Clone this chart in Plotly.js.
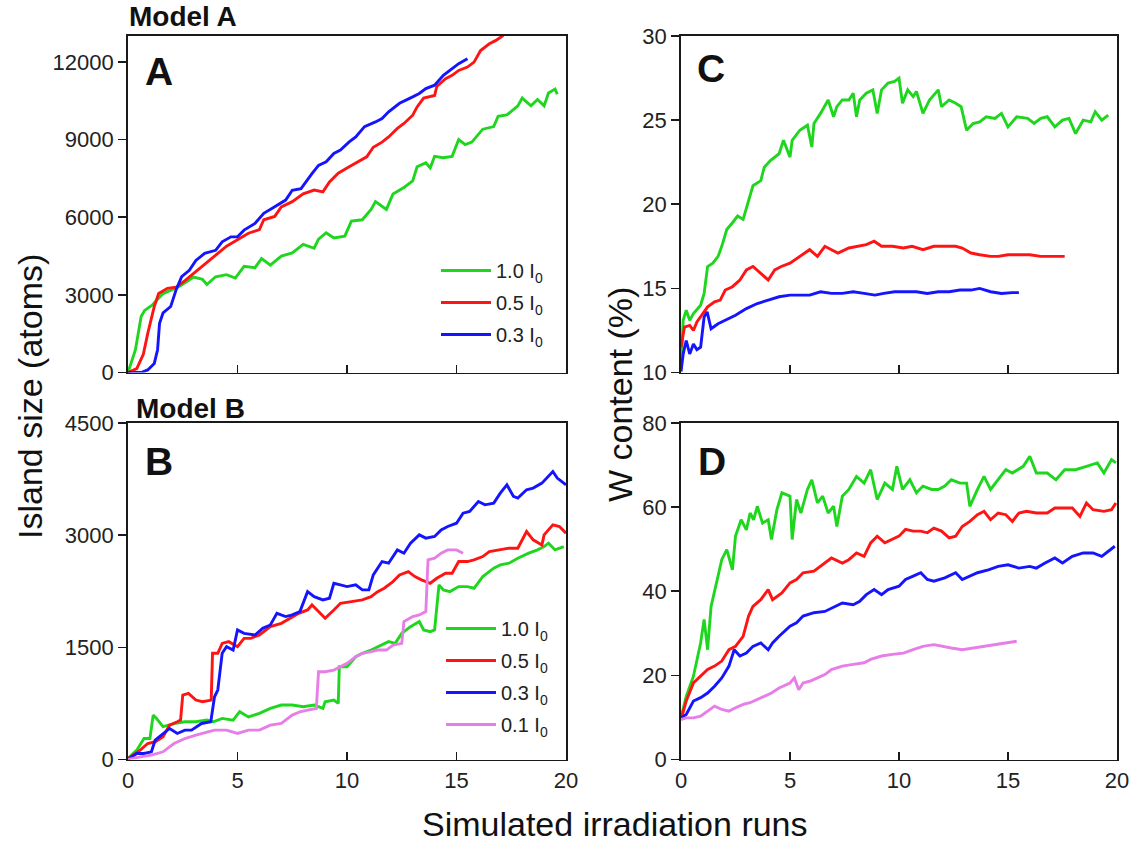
<!DOCTYPE html>
<html>
<head>
<meta charset="utf-8">
<script src="https://cdn.plot.ly/plotly-3.0.1.min.js"></script>
<style>html,body{margin:0;padding:0;background:#fff;}#chart{width:1136px;height:848px;}</style>
</head>
<body>
<div id="chart"></div>
<script>
// ---------- Series names ----------
const seriesNames = ['1.0 I<sub>0</sub>', '0.5 I<sub>0</sub>', '0.3 I<sub>0</sub>', '0.1 I<sub>0</sub>'];

// ---------- Panel A (Model A, island size) ----------
const aGreenX = [0,0.34,0.6,0.76,1.1,1.6,2.3,3.0,3.4,3.6,4.0,4.5,4.9,5.3,5.8,6.1,6.5,7.0,7.5,8.0,8.5,8.7,9.05,9.4,9.9,10.2,10.7,11.1,11.3,11.8,12.1,12.6,13.0,13.2,13.6,13.8,14.0,14.4,14.8,15.1,15.4,15.7,16.2,16.7,16.9,17.3,17.8,18.0,18.4,18.7,19.0,19.2,19.5,19.6];
const aGreenY = [0,880,2160,2400,2600,3050,3300,3690,3600,3400,3700,3780,3650,4100,4050,4400,4150,4500,4620,4950,4800,5150,5400,5200,5270,5850,5900,6300,6600,6300,6900,7150,7400,7950,8100,7900,8350,8300,8350,9000,8800,8900,9400,9500,9900,9950,10300,10600,10300,10550,10300,10800,10950,10750];
const aRedX = [0,0.4,0.7,0.9,1.2,1.4,1.8,2.2,2.6,3.1,3.6,4.1,4.5,5.0,5.5,6.0,6.2,6.7,7.0,7.5,8.0,8.5,8.9,9.2,9.6,10.1,10.6,10.9,11.2,11.6,11.9,12.3,12.6,13.0,13.2,13.5,14.0,14.1,14.5,14.8,15.1,15.5,15.8,16.1,16.5,16.8,17.1,17.3];
const aRedY = [0,150,700,1500,2550,3050,3250,3300,3550,3900,4250,4620,4880,5130,5380,5520,5900,6030,6400,6600,6900,7050,6980,7360,7700,7950,8200,8330,8700,8900,9100,9430,9620,9940,10260,10600,10700,11050,11350,11480,11670,11800,11990,12440,12700,12830,13000,13250];
const aBlueX = [0,0.6,0.9,1.2,1.35,1.44,1.6,1.95,2.2,2.45,2.8,3.1,3.5,4.0,4.3,4.7,5.0,5.3,5.8,6.2,6.7,7.2,7.5,7.9,8.4,8.7,9.05,9.4,9.7,10.1,10.4,10.8,11.3,11.6,11.9,12.4,13.0,13.3,13.6,14.0,14.4,14.8,15.1,15.5];
const aBlueY = [0,0,100,350,880,1900,2300,2550,3200,3700,3950,4330,4600,4720,5050,5240,5240,5500,5760,6150,6400,6660,7040,7100,7680,8000,8140,8460,8590,8910,9100,9500,9680,9810,10070,10400,10650,10780,10970,11100,11480,11740,11930,12120];

// ---------- Panel B (Model B, island size) ----------
const bGreenX = [0,0.4,0.73,1.0,1.15,1.3,1.6,2.1,2.6,3.1,3.6,3.9,4.3,4.8,5.1,5.5,6.0,6.5,7.0,7.5,8.0,8.5,8.9,9.0,9.4,9.6,9.65,10.0,10.4,10.7,11.1,11.4,11.9,12.2,12.5,12.9,13.3,13.5,13.8,14.0,14.2,14.4,14.7,15.1,15.5,15.8,16.2,16.7,17.0,17.4,17.8,18.3,18.7,19.0,19.2,19.5,19.9];
const bGreenY = [13,125,280,280,594,550,440,480,505,505,527,505,550,527,640,570,616,683,728,728,705,728,683,772,795,750,1240,1240,1375,1420,1464,1509,1576,1553,1687,1777,1844,1732,1710,1732,2335,2268,2245,2312,2312,2290,2446,2558,2602,2625,2692,2759,2803,2848,2893,2803,2848];
const bRedX = [0,0.56,0.9,1.24,1.6,1.9,2.25,2.4,2.5,2.76,3.1,3.4,3.8,3.86,4.1,4.3,4.6,5.0,5.3,5.6,6.0,6.5,7.0,7.5,7.8,8.2,8.4,8.7,9.0,9.4,9.7,10.2,10.7,11.1,11.4,11.7,12.1,12.4,12.8,13.1,13.4,13.8,14.1,14.5,14.8,15.1,15.5,15.8,16.2,16.5,16.9,17.4,17.8,18.2,18.5,18.9,19.0,19.4,19.7,20.0];
const bRedY = [13,125,214,237,304,460,505,527,862,884,795,772,795,1420,1420,1553,1576,1509,1620,1620,1665,1777,1821,1911,1955,2000,2067,1978,1888,2000,2089,2111,2134,2178,2245,2290,2379,2469,2513,2446,2402,2357,2424,2491,2491,2647,2647,2670,2714,2781,2803,2826,2826,3049,2937,2870,3004,3138,3116,3027];
const bBlueX = [0,0.4,0.73,1.07,1.24,1.6,1.9,2.25,2.6,2.9,3.36,3.78,3.95,4.1,4.3,4.5,4.8,5.0,5.3,5.8,6.15,6.5,6.8,7.2,7.5,7.85,8.2,8.5,8.9,9.2,9.4,9.7,10.0,10.4,10.7,11.0,11.2,11.6,11.9,12.3,12.6,12.9,13.3,13.6,14.0,14.3,14.6,15.0,15.3,15.6,16.0,16.3,16.7,17.0,17.3,17.6,17.8,18.2,18.5,18.9,19.1,19.4,19.6,20.0];
const bBlueY = [0,80,80,103,259,348,415,348,393,393,482,505,839,929,1420,1509,1464,1732,1687,1665,1754,1799,1955,1911,1933,1978,2245,2178,2134,2156,2357,2335,2312,2335,2268,2268,2469,2647,2625,2803,2759,2893,3004,2960,2982,3071,3116,3160,3294,3317,3451,3406,3429,3562,3674,3518,3495,3607,3629,3696,3763,3852,3763,3674];
const bVioletX = [0,0.56,1.07,1.6,2.1,2.6,3.1,3.6,3.95,4.5,5.0,5.5,6.0,6.5,7.0,7.5,7.85,8.2,8.5,8.6,8.7,9.0,9.4,9.7,10.0,10.4,10.7,11.1,11.4,11.8,12.1,12.5,12.6,13.0,13.3,13.6,13.7,14.0,14.3,14.6,15.0,15.3];
const bVioletY = [0,36,58,103,214,281,326,370,393,393,348,393,393,460,482,594,638,660,683,683,1174,1174,1196,1241,1286,1375,1420,1442,1464,1464,1531,1553,1844,1911,1933,1978,2670,2692,2759,2803,2803,2759];

// ---------- Panel C (Model A, W content) ----------
const cGreenX = [0,0.1,0.24,0.4,0.57,0.9,1.06,1.22,1.46,1.7,1.87,2.1,2.36,2.6,2.85,3.1,3.3,3.66,3.82,4.1,4.5,4.7,5.0,5.1,5.45,5.8,6.0,6.1,6.4,6.75,7.0,7.15,7.4,7.7,7.9,8.05,8.2,8.5,8.8,9.0,9.2,9.5,9.8,10.0,10.16,10.4,10.65,10.8,11.1,11.4,11.8,11.95,12.3,12.6,12.85,13.1,13.4,13.7,14.0,14.4,14.7,15.0,15.4,15.9,16.2,16.5,16.8,17.15,17.5,17.8,18.1,18.45,18.8,19.0,19.3,19.6];
const cGreenY = [10.2,13.1,13.7,13.1,13.5,14.0,14.7,16.3,16.5,16.9,17.5,18.5,18.9,19.3,19.1,20.3,21.1,21.4,22.2,22.6,23.0,23.8,22.8,23.8,24.4,24.7,23.4,24.8,25.4,26.2,25.2,25.8,26.2,26.2,26.6,25.2,26.2,26.6,26.8,25.4,26.8,27.2,27.3,27.5,26.0,26.8,26.4,26.7,25.4,26.2,26.8,25.8,26.2,26.0,25.8,24.4,24.8,24.9,25.2,25.1,25.4,24.6,25.2,25.1,24.8,25.1,25.2,24.6,25.0,25.1,24.2,25.0,24.9,25.5,25.0,25.3];
const cRedX = [0,0.16,0.4,0.57,0.73,0.98,1.22,1.54,1.8,2.03,2.36,2.7,3.0,3.3,3.66,4.0,4.3,4.6,5.0,5.45,5.9,6.26,6.6,6.9,7.2,7.7,8.2,8.5,8.86,9.2,9.7,10.2,10.6,11.1,11.6,12.1,12.6,12.9,13.3,13.7,14.2,14.55,15.0,15.5,16.0,16.5,17.0,17.6];
const cRedY = [11.5,12.7,12.8,12.5,13.0,13.5,13.9,14.2,14.3,14.9,15.1,15.5,16.1,16.3,15.9,15.5,16.1,16.3,16.5,16.9,17.3,16.9,17.5,17.3,17.1,17.4,17.5,17.6,17.8,17.5,17.5,17.4,17.5,17.3,17.5,17.5,17.5,17.4,17.1,17.0,16.9,16.9,17.0,17.0,17.0,16.9,16.9,16.9];
const cBlueX = [0,0.1,0.24,0.4,0.57,0.73,0.9,1.06,1.2,1.38,1.7,2.03,2.5,3.0,3.5,4.0,4.5,5.0,5.45,5.9,6.4,6.9,7.4,7.9,8.4,8.9,9.3,9.8,10.3,10.8,11.3,11.8,12.3,12.8,13.3,13.7,14.2,14.7,15.2,15.5];
const cBlueY = [10.06,11.1,11.9,11.1,11.7,11.35,11.5,13.3,13.6,12.6,12.9,13.1,13.4,13.8,14.1,14.3,14.5,14.6,14.6,14.6,14.8,14.7,14.7,14.8,14.7,14.6,14.7,14.8,14.8,14.8,14.7,14.8,14.8,14.9,14.9,15.0,14.8,14.7,14.75,14.75];

// ---------- Panel D (Model B, W content) ----------
const dGreenX = [0,0.24,0.57,0.9,1.06,1.22,1.38,1.63,1.87,2.1,2.36,2.5,2.76,3.0,3.17,3.33,3.5,3.74,4.0,4.15,4.4,4.63,5.0,5.1,5.3,5.5,5.8,6.0,6.26,6.5,6.75,7.0,7.15,7.4,7.7,8.05,8.4,8.7,9.0,9.35,9.7,9.9,10.16,10.5,10.8,11.1,11.5,11.8,12.1,12.4,12.8,13.1,13.25,13.6,13.9,14.2,14.55,14.9,15.2,15.7,16.0,16.3,16.8,17.2,17.6,18.1,18.6,19.1,19.4,19.75,19.95];
const dGreenY = [9.9,15.0,19.8,27.7,33.3,26.1,36.4,42.0,47.5,49.9,45.1,53.1,57.0,54.6,58.6,57.0,60.2,56.2,57.0,52.3,59.4,63.4,62.6,52.3,61.8,58.6,64.2,66.5,61.0,62.6,58.6,60.2,55.4,62.6,64.2,67.3,65.7,68.9,61.8,65.7,64.2,69.7,64.2,66.5,63.4,65.0,64.2,64.2,65.0,66.5,65.7,65.7,60.2,64.2,67.3,64.2,66.5,68.9,68.1,69.7,72.1,68.1,68.1,66.5,68.9,68.9,69.7,70.5,68.1,71.3,70.5];
const dRedX = [0,0.24,0.57,0.9,1.22,1.54,1.87,2.2,2.5,2.85,3.1,3.3,3.66,4.0,4.2,4.63,5.0,5.3,5.6,6.1,6.6,6.9,7.4,7.7,8.05,8.4,8.7,9.0,9.35,9.7,10.0,10.3,10.65,11.0,11.3,11.6,11.95,12.3,12.6,12.9,13.25,13.6,13.9,14.2,14.55,14.9,15.2,15.5,15.85,16.3,16.8,17.15,17.6,17.95,18.3,18.6,18.9,19.4,19.75,19.95];
const dRedY = [9.5,13.9,18.2,19.8,21.4,22.2,23.4,26.1,26.9,29.3,34.1,36.4,38.0,40.4,38.0,39.6,42.0,42.8,44.4,44.8,46.7,47.9,46.7,47.5,49.1,48.3,51.5,53.1,51.5,52.3,53.1,54.7,54.3,54.3,53.9,55.0,54.3,52.7,53.1,55.4,56.6,58.2,59.0,57.0,58.6,58.2,56.6,58.6,59.0,58.6,58.6,59.8,59.8,59.8,57.8,61.0,59.4,59.0,59.4,61.0];
const dBlueX = [0,0.24,0.57,0.9,1.22,1.54,1.87,2.2,2.44,2.7,3.0,3.3,3.66,4.0,4.2,4.5,5.0,5.3,5.6,6.1,6.6,6.9,7.4,7.9,8.2,8.5,8.86,9.2,9.5,10.0,10.3,10.65,11.0,11.3,11.6,12.1,12.6,12.9,13.25,13.6,14.1,14.55,15.0,15.5,16.0,16.3,16.7,17.15,17.5,17.95,18.45,18.9,19.3,19.6,19.9];
const dBlueY = [9.9,10.7,13.9,14.7,15.8,17.4,19.4,22.2,26.1,24.6,25.3,26.9,27.7,26.1,27.7,29.3,31.7,32.5,34.1,34.9,35.2,36.0,37.2,36.8,37.6,39.2,40.4,39.2,40.4,41.2,42.8,43.6,44.4,42.8,42.4,43.2,44.4,42.8,43.6,44.4,45.1,45.9,46.3,45.5,45.9,45.5,46.7,47.9,46.7,48.3,49.1,49.1,48.3,49.5,50.7];
const dVioletX = [0,0.24,0.57,0.9,1.22,1.54,1.87,2.2,2.5,2.85,3.17,3.5,3.82,4.15,4.5,5.0,5.2,5.4,5.6,5.9,6.26,6.6,6.9,7.4,7.9,8.4,8.7,9.2,9.7,10.2,10.65,11.1,11.6,11.95,12.4,12.9,13.4,13.9,14.4,14.9,15.2,15.4];
const dVioletY = [9.5,9.9,9.9,10.3,11.5,12.7,11.9,11.5,12.3,13.1,13.5,14.3,15.0,15.8,17.0,18.2,19.4,16.6,18.2,18.6,19.4,20.2,21.4,22.2,22.6,23.0,23.8,24.6,25.0,25.3,26.1,26.9,27.3,26.9,26.5,26.1,26.5,26.9,27.3,27.7,28.1,28.1];

// ---------- Tick labels ----------
const xTickVals = [0, 5, 10, 15, 20];
const xTickText = ['0', '5', '10', '15', '20'];
const yATickVals = [0, 3000, 6000, 9000, 12000];
const yATickText = ['0', '3000', '6000', '9000', '12000'];
const yBTickVals = [0, 1500, 3000, 4500];
const yBTickText = ['0', '1500', '3000', '4500'];
const yCTickVals = [10, 15, 20, 25, 30];
const yCTickText = ['10', '15', '20', '25', '30'];
const yDTickVals = [0, 20, 40, 60, 80];
const yDTickText = ['0', '20', '40', '60', '80'];

// ---------- Styles ----------
const FONT = 'Liberation Sans, Arial, Helvetica, sans-serif';
const COLORS = ['#1fd61f', '#ff1414', '#1414ff', '#e77de7'];
const LW = 2.9;

function tr(x, y, i, xa, ya, legendId) {
  return {
    type: 'scatter', mode: 'lines', x: x, y: y, xaxis: xa, yaxis: ya,
    name: seriesNames[i], line: {color: COLORS[i], width: LW},
    showlegend: !!legendId, legend: legendId || 'legend',
    legendgroup: (legendId || 'n') + i, hoverinfo: 'skip'
  };
}

const data = [
  tr(aGreenX, aGreenY, 0, 'x', 'y', 'legend'),
  tr(aRedX, aRedY, 1, 'x', 'y', 'legend'),
  tr(aBlueX, aBlueY, 2, 'x', 'y', 'legend'),
  tr(bGreenX, bGreenY, 0, 'x2', 'y2', 'legend2'),
  tr(bRedX, bRedY, 1, 'x2', 'y2', 'legend2'),
  tr(bBlueX, bBlueY, 2, 'x2', 'y2', 'legend2'),
  tr(bVioletX, bVioletY, 3, 'x2', 'y2', 'legend2'),
  tr(cGreenX, cGreenY, 0, 'x3', 'y3', null),
  tr(cRedX, cRedY, 1, 'x3', 'y3', null),
  tr(cBlueX, cBlueY, 2, 'x3', 'y3', null),
  tr(dGreenX, dGreenY, 0, 'x4', 'y4', null),
  tr(dRedX, dRedY, 1, 'x4', 'y4', null),
  tr(dBlueX, dBlueY, 2, 'x4', 'y4', null),
  tr(dVioletX, dVioletY, 3, 'x4', 'y4', null)
];

const W = 1136, H = 848;
const px = v => v / W;
const py = v => 1 - v / H;

const axBase = {
  showline: true, mirror: true, linecolor: '#1a1a1a', linewidth: 1.8,
  showgrid: false, zeroline: false, tickcolor: '#1a1a1a', tickwidth: 1.6,
  tickfont: {family: FONT, size: 22, color: '#222'}, fixedrange: true
};
const xLeft = [px(128), px(566)];
const xRight = [px(681), px(1117)];
const yTop = [py(372.5), py(36)];
const yBot = [py(759.5), py(423)];

function xax(domain, anchor, labels) {
  return Object.assign({}, axBase, {domain: domain, anchor: anchor, range: [0, 20],
    tickmode: 'array', tickvals: xTickVals, ticktext: xTickText, ticks: 'inside', ticklen: 8,
    showticklabels: labels});
}
function yax(domain, anchor, range, vals, text) {
  return Object.assign({}, axBase, {domain: domain, anchor: anchor, range: range,
    tickmode: 'array', tickvals: vals, ticktext: text, ticks: 'outside', ticklen: 8});
}

const legBase = {
  bgcolor: 'rgba(0,0,0,0)', borderwidth: 0, xanchor: 'left', yanchor: 'top',
  font: {family: FONT, size: 20, color: '#222'}, itemwidth: 50, tracegroupgap: 3,
  itemclick: false, itemdoubleclick: false
};

function ann(text, x, y, size, opts) {
  return Object.assign({text: text, x: x, y: y, xref: 'paper', yref: 'paper',
    showarrow: false, font: {family: FONT, size: size, color: '#111'}}, opts || {});
}

const layout = {
  width: W, height: H,
  margin: {l: 0, r: 0, t: 0, b: 0},
  paper_bgcolor: '#ffffff', plot_bgcolor: '#ffffff',
  font: {family: FONT, color: '#222'},
  showlegend: true,
  xaxis: xax(xLeft, 'y', false),
  yaxis: yax(yTop, 'x', [0, 13000], yATickVals, yATickText),
  xaxis2: xax(xLeft, 'y2', true),
  yaxis2: yax(yBot, 'x2', [0, 4500], yBTickVals, yBTickText),
  xaxis3: xax(xRight, 'y3', false),
  yaxis3: yax(yTop, 'x3', [10, 30], yCTickVals, yCTickText),
  xaxis4: xax(xRight, 'y4', true),
  yaxis4: yax(yBot, 'x4', [0, 80], yDTickVals, yDTickText),
  legend: Object.assign({}, legBase, {x: px(436), y: py(251)}),
  legend2: Object.assign({}, legBase, {x: px(441), y: py(609)}),
  annotations: [
    ann('<b>Model A</b>', px(127), py(17), 28, {xanchor: 'left', yanchor: 'middle'}),
    ann('<b>Model B</b>', px(134), py(408), 28, {xanchor: 'left', yanchor: 'middle'}),
    ann('<b>A</b>', px(143), py(71), 39, {xanchor: 'left', yanchor: 'middle'}),
    ann('<b>B</b>', px(143), py(462), 39, {xanchor: 'left', yanchor: 'middle'}),
    ann('<b>C</b>', px(695), py(68), 39, {xanchor: 'left', yanchor: 'middle'}),
    ann('<b>D</b>', px(696), py(462), 39, {xanchor: 'left', yanchor: 'middle'}),
    ann('Island size (atoms)', px(30), py(397), 34, {textangle: -90, xanchor: 'center', yanchor: 'middle'}),
    ann('W content (%)', px(620), py(395), 34, {textangle: -90, xanchor: 'center', yanchor: 'middle'}),
    ann('Simulated irradiation runs', px(615), py(824), 34, {xanchor: 'center', yanchor: 'middle'})
  ]
};

Plotly.newPlot('chart', data, layout, {staticPlot: true, displayModeBar: false});
</script>
</body>
</html>
